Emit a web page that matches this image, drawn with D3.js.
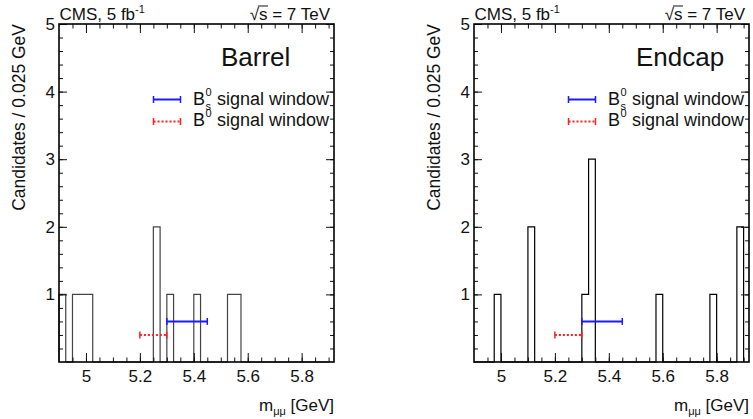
<!DOCTYPE html>
<html>
<head>
<meta charset="utf-8">
<script src="https://cdn.jsdelivr.net/npm/d3@7/dist/d3.min.js"></script>
<style>
  body { margin: 0; background: #fff; }
  text { font-family: "Liberation Sans", Arial, Helvetica, sans-serif; fill: #111; }
</style>
</head>
<body>
<div id="paper"></div>
<script>
// histogram: lower edge of each non-empty 0.025 GeV bin and its count
var binWidth = 0.025;
var massRange = [4.9, 5.92];
var countRange = [0, 5];
var barrelLow   = [4.900, 4.950, 4.975, 5.000, 5.250, 5.300, 5.400, 5.525, 5.550];
var barrelCount = [1, 1, 1, 1, 2, 1, 1, 1, 1];
var endcapLow   = [4.975, 5.100, 5.300, 5.325, 5.575, 5.775, 5.875];
var endcapCount = [1, 2, 1, 3, 1, 1, 2];
var bsWindow = [5.30, 5.45], bsLevel = 0.6;
var b0Window = [5.20, 5.30], b0Level = 0.4;
var xTickLabels = [5, 5.2, 5.4, 5.6, 5.8];
var yTickLabels = [1, 2, 3, 4, 5];
var panelNames = ["Barrel", "Endcap"];

var width = 753, height = 419;
var topY = 24, bottomY = 362, panelW = 275;
var panelLeft = [59, 474];

var svg = d3.select("#paper").append("svg")
    .attr("width", width)
    .attr("height", height);

var blue = "#1a1aff", red = "#ff2020";

var drawPanel = function(left, name, lows, counts, histColor) {
  var x = d3.scaleLinear().domain(massRange).range([left, left + panelW]);
  var y = d3.scaleLinear().domain(countRange).range([bottomY, topY]);
  var g = svg.append("g");

  // fill all bins from 4.9 to 5.9
  var nb = Math.round((5.9 - massRange[0]) / binWidth);
  var bins = [];
  for (var i = 0; i < nb; i++) bins.push(0);
  lows.forEach(function(lo, k) {
    bins[Math.round((lo - massRange[0]) / binWidth)] = counts[k];
  });
  var pts = [[massRange[0], 0]];
  bins.forEach(function(c, i) {
    var lo = massRange[0] + i * binWidth;
    pts.push([lo, c]);
    pts.push([lo + binWidth, c]);
  });
  pts.push([massRange[0] + nb * binWidth, 0]);
  var line = d3.line().x(function(d) { return x(d[0]); }).y(function(d) { return y(d[1]); });
  g.append("path").attr("d", line(pts))
    .attr("fill", "none").attr("stroke", histColor).attr("stroke-width", 1.2);

  // axes, ticks inward on all sides
  var minorX = d3.range(4.95, 5.92, 0.05), minorY = d3.range(0.2, 5, 0.2);
  var fmt = function(d) { return d3.format("")(+d.toFixed(1)); };
  g.append("g").attr("transform", "translate(0," + bottomY + ")")
    .call(d3.axisBottom(x).tickValues(minorX).tickSize(-4.5).tickFormat(""));
  g.append("g").attr("transform", "translate(0," + bottomY + ")")
    .call(d3.axisBottom(x).tickValues(xTickLabels).tickSize(-9).tickPadding(8).tickFormat(fmt));
  g.append("g").attr("transform", "translate(0," + topY + ")")
    .call(d3.axisTop(x).tickValues(minorX).tickSize(-4.5).tickFormat(""));
  g.append("g").attr("transform", "translate(0," + topY + ")")
    .call(d3.axisTop(x).tickValues(xTickLabels).tickSize(-9).tickFormat(""));
  g.append("g").attr("transform", "translate(" + left + ",0)")
    .call(d3.axisLeft(y).tickValues(minorY).tickSize(-4).tickFormat(""));
  g.append("g").attr("transform", "translate(" + left + ",0)")
    .call(d3.axisLeft(y).tickValues(yTickLabels).tickSize(-8).tickPadding(4).tickFormat(d3.format("d")));
  g.append("g").attr("transform", "translate(" + (left + panelW) + ",0)")
    .call(d3.axisRight(y).tickValues(minorY).tickSize(-4).tickFormat(""));
  g.append("g").attr("transform", "translate(" + (left + panelW) + ",0)")
    .call(d3.axisRight(y).tickValues(yTickLabels).tickSize(-8).tickFormat(""));
  g.selectAll(".domain").remove();
  g.selectAll(".tick line").attr("stroke", "#111");
  g.selectAll(".tick text").style("font-size", "17px").attr("fill", "#111");

  g.append("rect").attr("x", left).attr("y", topY)
    .attr("width", panelW).attr("height", bottomY - topY)
    .attr("fill", "none").attr("stroke", "#000").attr("stroke-width", 1.6);

  // signal windows
  var errBar = function(x1, x2, yy, color, dash) {
    g.append("line").attr("x1", x1).attr("x2", x2).attr("y1", yy).attr("y2", yy)
      .attr("stroke", color).attr("stroke-width", 2).attr("stroke-dasharray", dash);
    [x1, x2].forEach(function(xx) {
      g.append("line").attr("x1", xx).attr("x2", xx).attr("y1", yy - 3.5).attr("y2", yy + 3.5)
        .attr("stroke", color).attr("stroke-width", 1.5);
    });
  };
  errBar(x(bsWindow[0]), x(bsWindow[1]), y(bsLevel), blue, null);
  errBar(x(b0Window[0]), x(b0Window[1]), y(b0Level), red, "2,2");

  // legend
  errBar(left + 94.5, left + 121.5, 99.5, blue, null);
  errBar(left + 94.5, left + 121.5, 121.5, red, "2,2");
  var legend = function(tx, base, sub) {
    var b = g.append("text").attr("x", tx).attr("y", base).style("font-size", "18px").text("B");
    var w = b.node().getComputedTextLength();
    g.append("text").attr("x", tx + w + 0.5).attr("y", base - 9).style("font-size", "11px").text("0");
    if (sub) g.append("text").attr("x", tx + w + 0.5).attr("y", base + 5).style("font-size", "11px").text(sub);
    g.append("text").attr("x", tx + w + 12).attr("y", base).style("font-size", "18px").text("signal window");
  };
  legend(left + 134, 104.5, "s");
  legend(left + 134, 126, null);

  // labels
  g.append("text").attr("x", left + 162).attr("y", 66).style("font-size", "26px").text(name);

  var cms = g.append("text").attr("x", left + 0.5).attr("y", 20).style("font-size", "17px");
  cms.append("tspan").text("CMS, 5 fb");
  cms.append("tspan").attr("dy", -7).style("font-size", "11px").text("-1");

  var rs = g.append("text").attr("x", left + panelW - 4).attr("y", 20)
    .attr("text-anchor", "end").style("font-size", "17px").text("\u221As = 7 TeV");
  var n = rs.node();
  var s0 = n.getStartPositionOfChar(1), s1 = n.getEndPositionOfChar(1);
  g.append("line").attr("x1", s0.x - 1).attr("x2", s1.x + 0.5).attr("y1", 6).attr("y2", 6)
    .attr("stroke", "#111").attr("stroke-width", 1);

  var xt = g.append("text").attr("x", left + panelW).attr("y", 411)
    .attr("text-anchor", "end").style("font-size", "17px");
  xt.append("tspan").text("m");
  xt.append("tspan").attr("dy", 4).style("font-size", "11px").text("\u03BC\u03BC");
  xt.append("tspan").attr("dy", -4).text(" [GeV]");

  g.append("text").attr("transform", "translate(" + (left - 34) + "," + topY + ") rotate(-90)")
    .attr("text-anchor", "end").style("font-size", "17.5px").text("Candidates / 0.025 GeV");
};

drawPanel(panelLeft[0], panelNames[0], barrelLow, barrelCount, "#444");
drawPanel(panelLeft[1], panelNames[1], endcapLow, endcapCount, "#000");
</script>
</body>
</html>
